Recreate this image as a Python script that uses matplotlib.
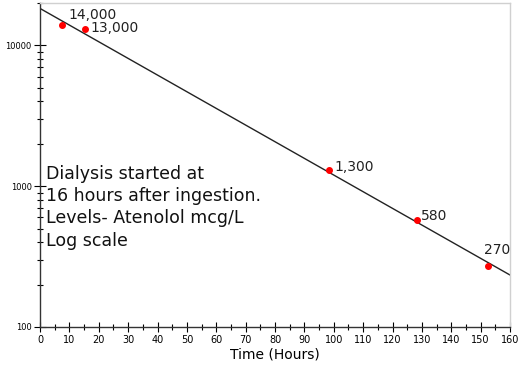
import matplotlib
matplotlib.use("Agg")
import matplotlib.pyplot as plt
from matplotlib.ticker import LogLocator, FixedLocator, MultipleLocator, NullFormatter

# Data
hours = [7.5, 15.3, 98.4, 128.3, 152.5]
levels = [14000, 13000, 1300, 580, 270]
labels = ["14,000", "13,000", "1,300", "580", "270"]
trend_x = [0, 160]
trend_y = [18300, 234]
x_ticks = list(range(0, 161, 10))
y_ticks = [100, 1000, 10000]

label_offsets = [(6, 10), (5, 1), (5, 3), (4, 4), (-4, 16)]

fig = plt.figure(figsize=(5.2, 3.66), dpi=100)
ax = fig.add_axes([40/520, 1-327/366, 470/520, 324/366])

ax.plot(trend_x, trend_y, color="#222222", lw=1.0, zorder=2)
ax.plot(hours, levels, "o", color="red", ms=4, zorder=3)
for x, y, lab, off in zip(hours, levels, labels, label_offsets):
    ax.annotate(lab, (x, y), xytext=off, textcoords="offset pixels",
                ha="left", va="center", fontsize=10, color="#222222")

ax.set_yscale("log")
ax.set_xlim(0, 160)
ax.set_ylim(100, 20000)
ax.xaxis.set_major_locator(FixedLocator(x_ticks))
ax.xaxis.set_minor_locator(MultipleLocator(5))
ax.yaxis.set_major_locator(FixedLocator(y_ticks))
ax.yaxis.set_major_formatter(matplotlib.ticker.FixedFormatter([str(v) for v in y_ticks]))
ax.yaxis.set_minor_locator(LogLocator(base=10, subs=range(2, 10)))
ax.yaxis.set_minor_formatter(NullFormatter())

ax.tick_params(axis="x", which="major", direction="inout", length=7, width=0.8, labelsize=7, pad=2)
ax.tick_params(axis="x", which="minor", direction="inout", length=4, width=0.8)
ax.tick_params(axis="y", which="major", direction="inout", length=8, width=0.8, labelsize=6, pad=2)
ax.tick_params(axis="y", which="minor", direction="inout", length=5, width=0.8)

for s in ["left", "bottom"]:
    ax.spines[s].set_color("#333333")
    ax.spines[s].set_linewidth(1.0)
for s in ["top", "right"]:
    ax.spines[s].set_color("#d0d0d0")
    ax.spines[s].set_linewidth(1.0)

ax.set_xlabel("Time (Hours)", fontsize=10, labelpad=2)

ax.text(6/470, 1-(165-3)/324,
        "Dialysis started at\n16 hours after ingestion.\nLevels- Atenolol mcg/L\nLog scale",
        transform=ax.transAxes, ha="left", va="top", fontsize=12.5, linespacing=1.3,
        color="#111111")

fig.savefig("out.png", dpi=100)
